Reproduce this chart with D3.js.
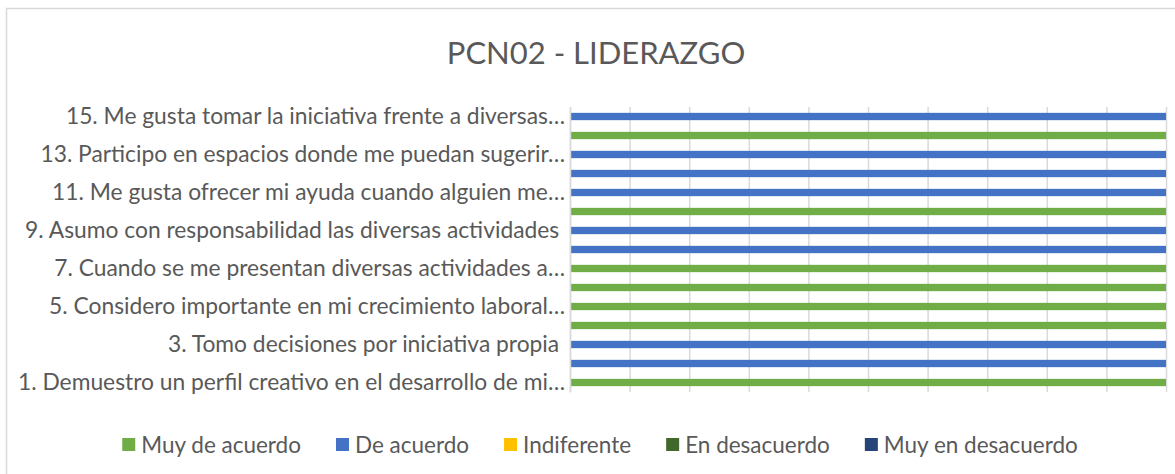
<!DOCTYPE html>
<html>
<head>
<meta charset="utf-8">
<title>PCN02 - LIDERAZGO</title>
<script src="https://cdnjs.cloudflare.com/ajax/libs/d3/7.8.5/d3.min.js"></script>
<style>
  body { margin: 0; background: #fff; }
  svg { display: block; font-family: Lato, "Open Sans", sans-serif; }
  text { fill: #595959; white-space: pre; }
</style>
</head>
<body>
<svg id="chart" width="1175" height="474"></svg>
<script>
  // items 1..15 (only odd labels are printed on the axis)
  const categories = [
    '1. Demuestro un perfil creativo en el desarrollo de mi…',
    '2.',
    '3. Tomo decisiones por iniciativa propia ',
    '4.',
    '5. Considero importante en mi crecimiento laboral…',
    '6.',
    '7. Cuando se me presentan diversas actividades a…',
    '8.',
    '9. Asumo con responsabilidad las diversas actividades ',
    '10.',
    '11. Me gusta ofrecer mi ayuda cuando alguien me…',
    '12.',
    '13. Participo en espacios donde me puedan sugerir…',
    '14.',
    '15. Me gusta tomar la iniciativa frente a diversas…'
  ];
  const series = ['Muy de acuerdo', 'De acuerdo', 'Indiferente', 'En desacuerdo', 'Muy en desacuerdo'];
  const colors = ['#70AD47', '#4472C4', '#FFC000', '#43682B', '#264478'];

  const muyDeAcuerdo    = [1, 0, 0, 1, 1, 1, 1, 0, 0, 1, 0, 0, 0, 1, 0];
  const deAcuerdo       = [0, 1, 1, 0, 0, 0, 0, 1, 1, 0, 1, 1, 1, 0, 1];
  const indiferente     = [0, 0, 0, 0, 0, 0, 0, 0, 0, 0, 0, 0, 0, 0, 0];
  const enDesacuerdo    = [0, 0, 0, 0, 0, 0, 0, 0, 0, 0, 0, 0, 0, 0, 0];
  const muyEnDesacuerdo = [0, 0, 0, 0, 0, 0, 0, 0, 0, 0, 0, 0, 0, 0, 0];

  const xTicks = [0, 0.1, 0.2, 0.3, 0.4, 0.5, 0.6, 0.7, 0.8, 0.9, 1];

  const table = categories.map((c, i) => ({
    cat: c,
    'Muy de acuerdo': muyDeAcuerdo[i],
    'De acuerdo': deAcuerdo[i],
    'Indiferente': indiferente[i],
    'En desacuerdo': enDesacuerdo[i],
    'Muy en desacuerdo': muyEnDesacuerdo[i]
  }));

  const svg = d3.select('#chart');

  // chart frame (only top/left edges fall inside the picture)
  svg.append('rect')
    .attr('x', 6.5).attr('y', 8.5)
    .attr('width', 1200).attr('height', 500)
    .attr('fill', 'none').attr('stroke', '#d9d9d9').attr('stroke-width', 1.5);

  svg.append('text')
    .attr('x', 596).attr('y', 64)
    .attr('text-anchor', 'middle')
    .style('font-size', '31px')
    .text('PCN02 - LIDERAZGO');

  const plotL = 570, plotR = 1166, plotT = 107, plotB = 392;

  const x = d3.scaleLinear().domain([0, 1]).range([plotL, plotR]);
  const y = d3.scaleBand()
    .domain(categories.slice().reverse())
    .range([plotT, plotB])
    .paddingInner(0.615)
    .paddingOuter(0.3075);

  // vertical gridlines
  svg.append('g')
    .attr('transform', `translate(0,${plotB})`)
    .call(d3.axisBottom(x).tickValues(xTicks).tickSize(-(plotB - plotT)).tickFormat(''))
    .call(g => g.select('.domain').remove())
    .call(g => g.selectAll('.tick line').attr('stroke', '#d9d9d9').attr('stroke-width', 1.5));

  const stacked = d3.stack().keys(series).offset(d3.stackOffsetExpand)(table);

  svg.append('g')
    .selectAll('g')
    .data(stacked)
    .join('g')
    .attr('fill', (d, i) => colors[i])
    .selectAll('rect')
    .data(d => d)
    .join('rect')
    .attr('x', d => x(d[0]))
    .attr('width', d => x(d[1]) - x(d[0]))
    .attr('y', d => y(d.data.cat))
    .attr('height', y.bandwidth());

  // category axis, every other label
  svg.append('g')
    .attr('transform', `translate(${plotL},0)`)
    .call(d3.axisLeft(y).tickSize(0).tickPadding(5)
      .tickFormat(d => categories.indexOf(d) % 2 === 0 ? d : ''))
    .attr('font-family', null)
    .attr('font-size', null)
    .call(g => g.select('.domain').attr('stroke', '#d9d9d9').attr('stroke-width', 1.5))
    .call(g => g.selectAll('text').style('font-size', '22.8px').attr('fill', '#595959'));

  // legend
  const legend = svg.append('g').attr('transform', 'translate(0,445)');
  const items = legend.selectAll('g').data(series).join('g');
  items.append('rect')
    .attr('y', -7).attr('width', 13).attr('height', 13)
    .attr('fill', (d, i) => colors[i]);
  items.append('text')
    .attr('x', 19).attr('dy', '0.35em')
    .style('font-size', '22.5px')
    .text(d => d);
  const gap = 35;
  const widths = [];
  items.each(function () { widths.push(this.getBBox().width); });
  const total = d3.sum(widths) + gap * (widths.length - 1);
  let cx = 600 - total / 2;
  items.attr('transform', (d, i) => {
    const t = `translate(${cx},0)`;
    cx += widths[i] + gap;
    return t;
  });
</script>
</body>
</html>
